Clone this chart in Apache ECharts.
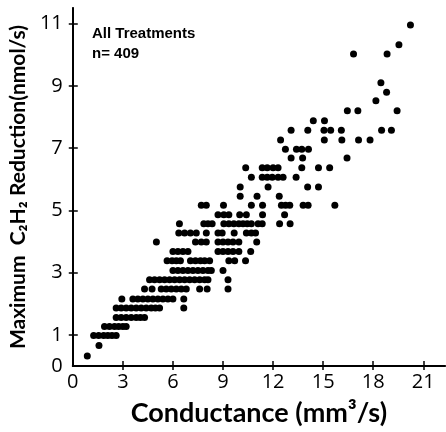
<!DOCTYPE html>
<html>
<head>
<meta charset="utf-8">
<script src="https://cdn.jsdelivr.net/npm/echarts@6/dist/echarts.min.js"></script>
<style>html,body{margin:0;padding:0;background:#fff;}#c{width:446px;height:432px;}</style>
</head>
<body>
<div id="c"></div>
<script>
// Row y-values (C2H2 reduction, nmol/s) and the conductance x-values of dots on each row
const rowY = [0.32, 0.66, 0.98, 1.27, 1.56, 1.86, 2.15, 2.47, 2.77, 3.07, 3.38, 3.68, 3.98, 4.27, 4.57, 4.86, 5.16, 5.45, 5.75, 6.06, 6.37, 6.68, 6.96, 7.26, 7.57, 7.88, 8.2, 8.52, 8.79, 9.1, 10.02, 10.32, 10.95];
const rowX = [
  [0.87],
  [1.57],
  [1.25, 1.55, 1.85, 2.1, 2.35, 2.6],
  [1.9, 2.2, 2.5, 2.75, 3.0, 3.2],
  [2.6, 2.9, 3.2, 3.5, 3.8, 4.05, 4.3],
  [2.6, 2.9, 3.2, 3.5, 3.8, 4.1, 4.4, 4.7, 4.95, 5.2, 6.65],
  [2.94, 3.6, 3.9, 4.2, 4.5, 4.8, 5.1, 5.4, 5.7, 6.0, 6.65],
  [4.3, 4.75, 5.3, 5.6, 5.9, 6.2, 6.5, 6.8, 7.6, 8.05, 9.3],
  [4.6, 4.9, 5.2, 5.5, 5.8, 6.1, 6.4, 6.7, 7.0, 7.3, 7.6, 7.9, 8.1, 9.3],
  [6.0, 6.3, 6.6, 6.9, 7.2, 7.5, 7.8, 8.1, 8.3, 9.0],
  [5.65, 5.95, 6.2, 6.45, 7.05, 7.35, 7.65, 7.9, 8.2, 9.35, 9.7, 10.35],
  [6.0, 6.3, 6.6, 6.9, 8.7, 9.0, 9.3, 9.6, 9.95, 10.66],
  [5.01, 7.35, 7.7, 8.0, 8.7, 9.0, 9.3, 9.6, 9.95, 11.02],
  [6.35, 6.7, 7.05, 7.4, 8.0, 8.7, 8.95, 9.67, 10.4, 10.7, 10.95],
  [6.39, 7.85, 8.1, 8.35, 9.05, 9.35, 9.65, 9.95, 10.2, 10.45, 10.7, 11.1, 11.35, 12.39, 13.02],
  [8.7, 9.05, 9.35, 10.0, 10.4, 11.37, 12.69],
  [7.7, 8.0, 9.03, 10.7, 11.37, 12.5, 12.75, 13.0, 13.8, 14.1, 15.7],
  [10.03, 11.04, 12.37],
  [10.03, 11.7, 14.07, 14.72],
  [10.7, 11.35, 11.65, 11.95, 12.3, 12.6, 13.38],
  [10.36, 11.35, 11.65, 12.0, 12.3, 13.72, 14.72, 15.39],
  [13.08, 13.77, 16.43],
  [12.74, 13.4, 13.72, 14.12],
  [12.45, 15.07, 16.12, 17.12, 17.81],
  [13.08, 14.08, 15.05, 15.45, 16.09, 18.5, 19.09],
  [14.41, 15.08],
  [16.45, 17.08, 19.43],
  [18.16],
  [18.8],
  [18.46],
  [16.82, 18.83],
  [19.54],
  [20.23]
];
const xTicks = [0, 3, 6, 9, 12, 15, 18, 21];
const yTicks = [0, 1, 3, 5, 7, 9, 11];
const annotation = ['All Treatments', 'n= 409'];

const points = [];
rowY.forEach((y, i) => rowX[i].forEach(x => points.push([x, y])));

const chart = echarts.init(document.getElementById('c'), null, {renderer: 'canvas'});
const labelFont = "'Open Sans', 'DejaVu Sans', sans-serif";
const nameFont = "Lato, 'Open Sans', sans-serif";
chart.setOption({
  animation: false,
  backgroundColor: '#fff',
  grid: {left: 69, right: 1, top: 8, bottom: 66},
  xAxis: [{
    type: 'value', min: 0, max: 22.3, position: 'bottom',
    name: 'Conductance (mm\u00B3/s)', nameLocation: 'middle', nameGap: 34,
    nameTextStyle: {fontSize: 27, fontWeight: 'bold', color: '#000', fontFamily: nameFont},
    axisLine: {lineStyle: {color: '#000', width: 2}},
    axisTick: {inside: true, length: 5, lineStyle: {color: '#000', width: 1.5}, customValues: xTicks.slice(1)},
    axisLabel: {color: '#000', fontSize: 20, margin: 6, fontFamily: labelFont, customValues: xTicks},
    splitLine: {show: false}
  }, {
    type: 'value', min: 0, max: 22.3, position: 'top',
    axisLine: {show: true, lineStyle: {color: '#000', width: 1.5}},
    axisTick: {inside: true, length: 4, lineStyle: {color: '#000', width: 1.5}, customValues: xTicks.slice(1)},
    axisLabel: {show: false}, splitLine: {show: false}
  }],
  yAxis: [{
    type: 'value', min: 0, max: 11.5, position: 'left',
    name: 'Maximum  C\u2082H\u2082 Reduction(nmol/s)', nameLocation: 'middle', nameGap: 36,
    nameTextStyle: {fontSize: 21, fontWeight: 'bold', color: '#000', fontFamily: nameFont},
    axisLine: {lineStyle: {color: '#000', width: 2}},
    axisTick: {inside: true, length: 5, lineStyle: {color: '#000', width: 1.5}, customValues: yTicks.slice(1)},
    axisLabel: {color: '#000', fontSize: 20, margin: 10, fontFamily: labelFont, customValues: yTicks},
    splitLine: {show: false}
  }, {
    type: 'value', min: 0, max: 11.5, position: 'right',
    axisLine: {show: true, lineStyle: {color: '#000', width: 1.5}},
    axisTick: {inside: true, length: 4, lineStyle: {color: '#000', width: 1.5}, customValues: yTicks.slice(1)},
    axisLabel: {show: false}, splitLine: {show: false}
  }],
  graphic: [{
    type: 'text', left: 92, top: 24,
    style: {text: annotation.join('\n'), fill: '#000', font: "bold 15px 'Liberation Sans Narrow', 'Liberation Sans', sans-serif", lineHeight: 20}
  }],
  series: [{
    type: 'scatter', xAxisIndex: 0, yAxisIndex: 0,
    symbol: 'circle', symbolSize: 7,
    itemStyle: {color: '#000', opacity: 1},
    data: points
  }]
});
</script>
</body>
</html>
